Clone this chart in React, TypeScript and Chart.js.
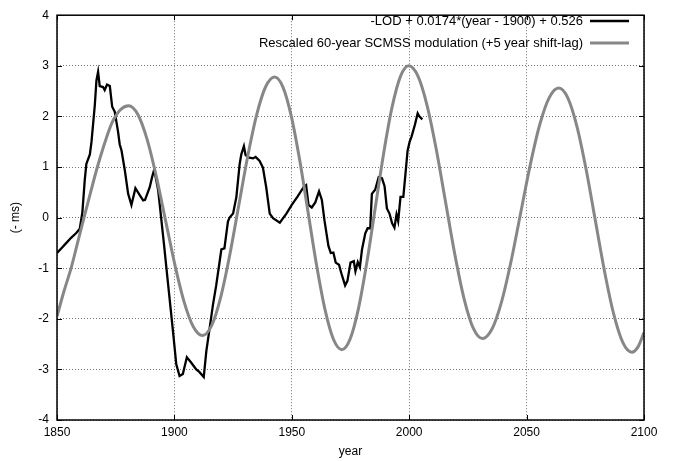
import React, { useEffect, useRef } from "react";
import { Chart, registerables } from "chart.js";

Chart.register(...registerables);

// ---- data ----
const lodYears = [
  1850, 1852, 1854, 1856, 1858.3, 1859.7, 1860.8, 1861.8, 1862.5, 1864,
  1864.7, 1866.1, 1866.8, 1867.5, 1868.2, 1869.6, 1870.3, 1871.3, 1872.5, 1873.5,
  1874.6, 1876, 1876.7, 1877.5, 1878.9, 1880.3, 1881.7, 1883.4, 1885.3, 1886.7,
  1887.5, 1889.5, 1890.5, 1891.4, 1893.1, 1895.5, 1897.5, 1899.4, 1900.8, 1902.2,
  1903.6, 1905.3, 1907.2, 1909.3, 1910.6, 1912.5, 1913.6, 1915, 1916.4, 1917.8,
  1920, 1921.3, 1922.8, 1923.5, 1925, 1926.4, 1927.8, 1928.5, 1929.6, 1930.3,
  1931.4, 1933.5, 1934.6, 1936.3, 1937.7, 1939.1, 1940.6, 1942, 1944.9, 1947.7,
  1950, 1952.5, 1955, 1956.1, 1957.1, 1958.5, 1960, 1961.6, 1962.8, 1963.9,
  1965.6, 1966.6, 1967.7, 1968.7, 1970.1, 1971.1, 1972.7, 1973.7, 1975, 1976.4,
  1977.1, 1978.1, 1979, 1979.9, 1981.3, 1982.3, 1983.4, 1984.1, 1985.5, 1987,
  1988.4, 1989.5, 1990.5, 1991.6, 1992.7, 1993.7, 1994.6, 1995.3, 1996.3, 1997.5,
  1998.4, 1999.3, 2000.2, 2001, 2002.4, 2003.6, 2004.3, 2005.6,
];
const lodValues = [
  -0.7, -0.6, -0.5, -0.4, -0.3, -0.22, 0.1, 0.73, 1.06, 1.25,
  1.5, 2.22, 2.71, 2.88, 2.6, 2.58, 2.52, 2.63, 2.6, 2.19,
  2.09, 1.7, 1.45, 1.32, 0.93, 0.47, 0.25, 0.58, 0.44, 0.34,
  0.35, 0.6, 0.8, 0.95, 0.54, -0.5, -1.4, -2.25, -2.9, -3.13,
  -3.09, -2.76, -2.87, -3.0, -3.05, -3.15, -2.64, -2.19, -1.73, -1.34,
  -0.63, -0.61, -0.08, 0.0, 0.08, 0.41, 1.06, 1.25, 1.41, 1.24,
  1.19, 1.17, 1.2, 1.12, 0.99, 0.6, 0.08, -0.01, -0.1, 0.08,
  0.25, 0.42, 0.6, 0.64, 0.25, 0.2, 0.3, 0.52, 0.35, -0.05,
  -0.56, -0.7, -0.69, -0.89, -0.93, -1.1, -1.34, -1.25, -0.89, -0.86,
  -1.06, -0.88, -0.98, -0.63, -0.31, -0.21, -0.21, 0.47, 0.55, 0.8,
  0.78, 0.62, 0.18, 0.08, -0.11, -0.2, 0.06, -0.07, 0.41, 0.41,
  0.86, 1.32, 1.5, 1.6, 1.83, 2.06, 2.0, 1.94,
];

const scmssYears = [
  1850, 1853, 1856, 1858.75, 1861.5, 1864.3, 1867.2, 1870.5, 1873.5, 1877,
  1880.5, 1884.44, 1888.38, 1892.31, 1896.25, 1900.19, 1904.13, 1908.06,
  1912, 1915.84, 1919.68, 1923.51, 1927.35, 1931.19, 1935.03, 1938.86,
  1942.7, 1946.28, 1949.85, 1953.43, 1957.0, 1960.58, 1964.15, 1967.73,
  1971.3, 1974.86, 1978.43, 1981.99, 1985.55, 1989.11, 1992.68, 1996.24,
  1999.8, 2003.73, 2007.65, 2011.58, 2015.5, 2019.43, 2023.35, 2027.28,
  2031.2, 2035.26, 2039.33, 2043.39, 2047.45, 2051.51, 2055.58, 2059.64,
  2063.7, 2067.59, 2071.48, 2075.36, 2079.25, 2083.14, 2087.03, 2090.91,
  2094.8, 2097.5, 2100,
];
const scmssValues = [
  -1.95, -1.45, -1.0, -0.5, 0.0, 0.5, 1.0, 1.5, 1.88, 2.13,
  2.21, 2.037, 1.545, 0.809, -0.06, -0.929, -1.665, -2.157,
  -2.33, -2.136, -1.581, -0.754, 0.225, 1.204, 2.031, 2.586,
  2.78, 2.575, 1.99, 1.117, 0.085, -0.947, -1.82, -2.405,
  -2.61, -2.397, -1.788, -0.879, 0.195, 1.269, 2.178, 2.787,
  3.0, 2.795, 2.21, 1.337, 0.305, -0.727, -1.6, -2.185,
  -2.39, -2.202, -1.665, -0.863, 0.085, 1.033, 1.835, 2.372,
  2.56, 2.362, 1.795, 0.95, -0.05, -1.05, -1.895, -2.462,
  -2.66, -2.55, -2.27,
];

const xTicks = [1850, 1900, 1950, 2000, 2050, 2100];
const yTicks = [-4, -3, -2, -1, 0, 1, 2, 3, 4];

const lodLabel = "-LOD + 0.0174*(year - 1900) + 0.526";
const scmssLabel = "Rescaled 60-year SCMSS modulation (+5 year shift-lag)";
const xTitle = "year";
const yTitle = "(- ms)";

const FONT = '"Liberation Sans", Arial, sans-serif';
const BLACK = "#000000";
const GRAY = "#878787";

const decor = {
  id: "decor",
  afterDraw(chart: any) {
    const { ctx, chartArea, scales } = chart;
    const { left, right, top, bottom } = chartArea;
    const x = scales.x;
    const y = scales.y;
    ctx.save();
    ctx.strokeStyle = "#000";
    ctx.lineWidth = 1;
    ctx.setLineDash([]);
    ctx.beginPath();
    xTicks.forEach((v) => {
      const px = Math.round(x.getPixelForValue(v)) + 0.5;
      ctx.moveTo(px, bottom);
      ctx.lineTo(px, bottom - 5);
      ctx.moveTo(px, top);
      ctx.lineTo(px, top + 5);
    });
    yTicks.forEach((v) => {
      const py = Math.round(y.getPixelForValue(v)) + 0.5;
      ctx.moveTo(left, py);
      ctx.lineTo(left + 5, py);
      ctx.moveTo(right, py);
      ctx.lineTo(right - 5, py);
    });
    ctx.stroke();
    ctx.lineWidth = 1.5;
    ctx.strokeRect(left, top, right - left, bottom - top);

    ctx.fillStyle = "#000";
    ctx.font = "12px " + FONT;
    ctx.textAlign = "center";
    ctx.textBaseline = "middle";
    ctx.fillText(xTitle, (left + right) / 2, 452);
    ctx.save();
    ctx.translate(16, (top + bottom) / 2);
    ctx.rotate(-Math.PI / 2);
    ctx.fillText(yTitle, 0, 0);
    ctx.restore();

    // legend
    ctx.font = "13px " + FONT;
    ctx.textAlign = "right";
    ctx.fillText(lodLabel, 583, 21);
    ctx.fillText(scmssLabel, 583, 43);
    ctx.lineCap = "butt";
    ctx.strokeStyle = BLACK;
    ctx.lineWidth = 2.3;
    ctx.beginPath();
    ctx.moveTo(590, 21);
    ctx.lineTo(629, 21);
    ctx.stroke();
    ctx.strokeStyle = GRAY;
    ctx.lineWidth = 3;
    ctx.beginPath();
    ctx.moveTo(590, 43);
    ctx.lineTo(629, 43);
    ctx.stroke();
    ctx.restore();
  },
};

export default function App() {
  const ref = useRef<HTMLCanvasElement | null>(null);

  useEffect(() => {
    if (!ref.current) return;
    const lodPts = lodYears.map((yr, i) => ({ x: yr, y: lodValues[i] }));
    const scmssPts = scmssYears.map((yr, i) => ({ x: yr, y: scmssValues[i] }));
    const chart = new Chart(ref.current, {
      type: "line",
      data: {
        datasets: [
          {
            label: scmssLabel,
            data: scmssPts,
            borderColor: GRAY,
            borderWidth: 3,
            pointRadius: 0,
            cubicInterpolationMode: "monotone",
            fill: false,
          },
          {
            label: lodLabel,
            data: lodPts,
            borderColor: BLACK,
            borderWidth: 2.3,
            pointRadius: 0,
            tension: 0,
            fill: false,
          },
        ],
      },
      options: {
        animation: false,
        responsive: false,
        events: [],
        layout: { padding: { top: 9, right: 33, left: 0, bottom: 0 } },
        plugins: {
          legend: { display: false },
          tooltip: { enabled: false },
        },
        scales: {
          x: {
            type: "linear",
            min: 1850,
            max: 2100,
            afterBuildTicks: (s: any) => {
              s.ticks = xTicks.map((v) => ({ value: v }));
            },
            afterFit: (s: any) => {
              s.height = 41;
            },
            ticks: {
              padding: 5,
              color: "#000",
              font: { family: FONT, size: 12 },
              callback: (v: any) => String(v),
            },
            grid: { color: "rgba(0,0,0,0.55)", drawTicks: false, lineWidth: 1 },
            border: { display: false, dash: [1, 2] },
          },
          y: {
            type: "linear",
            min: -4,
            max: 4,
            afterBuildTicks: (s: any) => {
              s.ticks = yTicks.map((v) => ({ value: v }));
            },
            afterFit: (s: any) => {
              s.width = 57;
            },
            ticks: {
              padding: 8,
              color: "#000",
              font: { family: FONT, size: 12 },
              callback: (v: any) => String(v),
            },
            grid: { color: "rgba(0,0,0,0.55)", drawTicks: false, lineWidth: 1 },
            border: { display: false, dash: [1, 2] },
          },
        },
      },
      plugins: [decor],
    } as any);
    return () => chart.destroy();
  }, []);

  return (
    <div
      style={{
        position: "fixed",
        left: 0,
        top: 0,
        width: 677,
        height: 461,
        background: "#fff",
      }}
    >
      <canvas ref={ref} width={677} height={461} />
    </div>
  );
}
